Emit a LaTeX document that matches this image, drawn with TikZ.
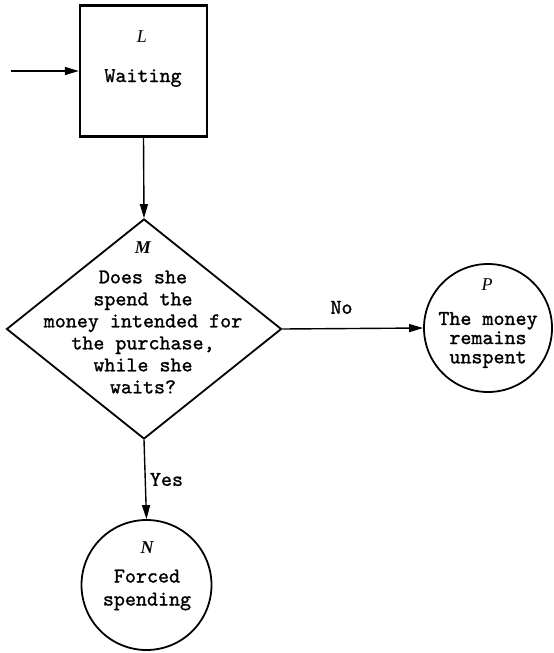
\documentclass[tikz,border=0pt]{standalone}
\usepackage{fontspec}
\newfontfamily\typefont{Latin Modern Mono}[FakeBold=1.2]
\newfontfamily\tagfont{Liberation Serif}
\usetikzlibrary{shapes.geometric,arrows.meta}
\begin{document}
\begin{tikzpicture}[x=0.5pt,y=-0.5pt,
  body/.style={font=\typefont\bfseries\fontsize{10.5}{11}\selectfont, align=center, inner sep=0pt},
  tag/.style={font=\tagfont\itshape\fontsize{9}{10}\selectfont, inner sep=0pt},
  boldtag/.style={tag, font=\tagfont\itshape\bfseries\fontsize{9}{10}\selectfont},
  flow/.style={-{Triangle[length=7pt,width=4pt]}, line width=0.7pt},
  stepbox/.style={draw, line width=1.2pt, minimum width=63.5pt, minimum height=65.5pt, inner sep=0pt},
  decision/.style={draw, diamond, line width=0.9pt, minimum width=137.5pt, minimum height=110pt, inner sep=0pt},
  outcome/.style={draw, circle, line width=0.9pt, inner sep=0pt}]
\useasboundingbox (0,0) rectangle (553,653);

% shapes
\node[stepbox] (L) at (143.5,71) {};
\node[decision] (M) at (144,329) {};
\node[outcome, minimum size=64pt] (P) at (488,328) {};
\node[outcome, minimum size=65pt] (N) at (146.5,585) {};

% texts inside the shapes
\node[tag] (Ltag) at (142,37) {L};
\node[body] (Ltxt) at (143,78) {Waiting};
\node[boldtag] (Mtag) at (143,248) {M};
\node[body] (Mtxt) at (143,332) {Does she\\spend the\\money intended for\\the purchase,\\while she\\waits?};
\node[tag] (Ptag) at (487,285) {P};
\node[body, font=\typefont\bfseries\fontsize{10.5}{9.6}\selectfont] (Ptxt) at (488,340) {The money\\remains\\unspent};
\node[boldtag] (Ntag) at (147,548) {N};
\node[body, font=\typefont\bfseries\fontsize{10.5}{11.5}\selectfont] (Ntxt) at (147,590) {Forced\\spending};

% connectors
\coordinate (src) at (11,71);
\draw[flow] (src) -- (L.west);
\draw[flow] (L.south) -- (M.north);
\draw[flow] (M.east) -- node[body, pos=0.42, above=7pt] (no) {No} (P.west);
\draw[flow] (M.south) -- node[body, right=2pt] (yes) {Yes} (N.north);
\end{tikzpicture}
\end{document}
